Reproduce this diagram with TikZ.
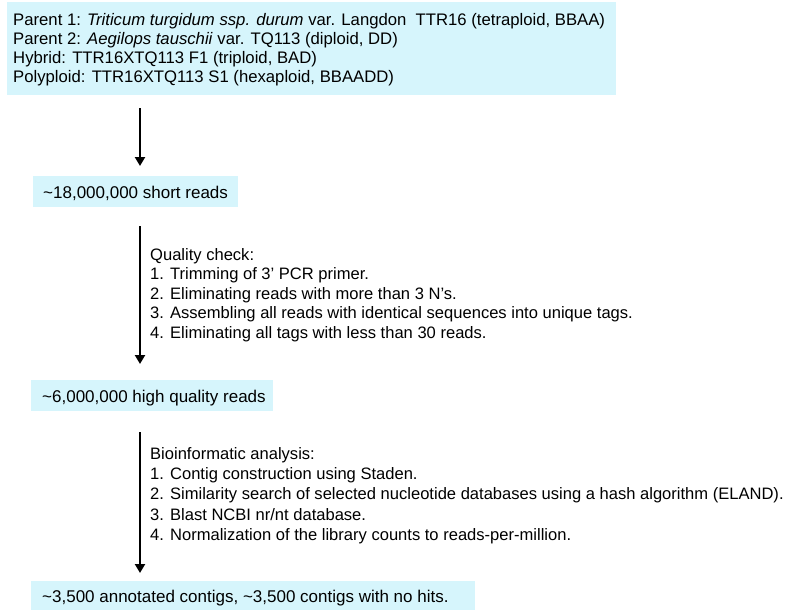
\documentclass[tikz,border=0pt]{standalone}
\usepackage{fontspec}
\setmainfont{Liberation Sans}
\usetikzlibrary{arrows.meta}
\definecolor{boxcyan}{RGB}{214,245,252}
\begin{document}
\begin{tikzpicture}[x=1pt,y=-1pt,
  box/.style={fill=boxcyan, draw=none, inner sep=0pt, anchor=north west},
  txt/.style={anchor=base west, inner sep=0pt, font=\fontsize{17}{19}\selectfont},
  hdr/.style={txt, font=\fontsize{16.7}{19}\selectfont},
  lst/.style={txt, font=\fontsize{16.55}{19}\selectfont},
  flow/.style={line width=2.8pt, -{Triangle[width=10pt,length=9pt]}}]
\useasboundingbox (0,0) rectangle (792,610);
% boxes
\node[box, minimum width=609pt, minimum height=93pt] (b1) at (7,2) {};
\node[box, minimum width=205pt, minimum height=31pt] (b2) at (33,176) {};
\node[box, minimum width=242pt, minimum height=31pt] (b3) at (31,380) {};
\node[box, minimum width=444pt, minimum height=29pt] (b4) at (31,581) {};
% box texts
\node[hdr] (t1a) at (13,26) {Parent 1: \textit{Triticum turgidum ssp. durum} var. Langdon\ \ TTR16 (tetraploid, BBAA)};
\node[hdr] (t1b) at (13,44.7) {Parent 2: \textit{Aegilops tauschii} var. TQ113 (diploid, DD)};
\node[hdr] (t1c) at (13,63.4) {Hybrid: TTR16XTQ113 F1 (triploid, BAD)};
\node[hdr] (t1d) at (13,82.1) {Polyploid: TTR16XTQ113 S1 (hexaploid, BBAADD)};
\node[txt] (t2) at (43,198) {\textasciitilde 18,000,000 short reads};
\node[txt] (t3) at (42,402) {\textasciitilde 6,000,000 high quality reads};
\node[txt] (t4) at (42,602) {\textasciitilde 3,500 annotated contigs, \textasciitilde 3,500 contigs with no hits.};
% quality check
\node[lst] (q0) at (150,260) {Quality check:};
\node[lst] (q1) at (150,279.6) {1. Trimming of 3’ PCR primer.};
\node[lst] (q2) at (150,299.2) {2. Eliminating reads with more than 3 N’s.};
\node[lst] (q3) at (150,318.8) {3. Assembling all reads with identical sequences into unique tags.};
\node[lst] (q4) at (150,338.4) {4. Eliminating all tags with less than 30 reads.};
% bioinformatic analysis
\node[lst] (s0) at (150,459.5) {Bioinformatic analysis:};
\node[lst] (s1) at (150,479.6) {1. Contig construction using Staden.};
\node[lst] (s2) at (150,499.8) {2. Similarity search of selected nucleotide databases using a hash algorithm (ELAND).};
\node[lst] (s3) at (150,520) {3. Blast NCBI nr/nt database.};
\node[lst] (s4) at (150,540) {4. Normalization of the library counts to reads-per-million.};
% arrows
\coordinate (ax) at (140,0);
\draw[flow, shorten <=13pt, shorten >=10pt] (b1.south -| ax) -- (b2.north -| ax);
\draw[flow, shorten <=19pt, shorten >=16pt] (b2.south -| ax) -- (b3.north -| ax);
\draw[flow, shorten <=21pt, shorten >=8pt] (b3.south -| ax) -- (b4.north -| ax);
\end{tikzpicture}
\end{document}
